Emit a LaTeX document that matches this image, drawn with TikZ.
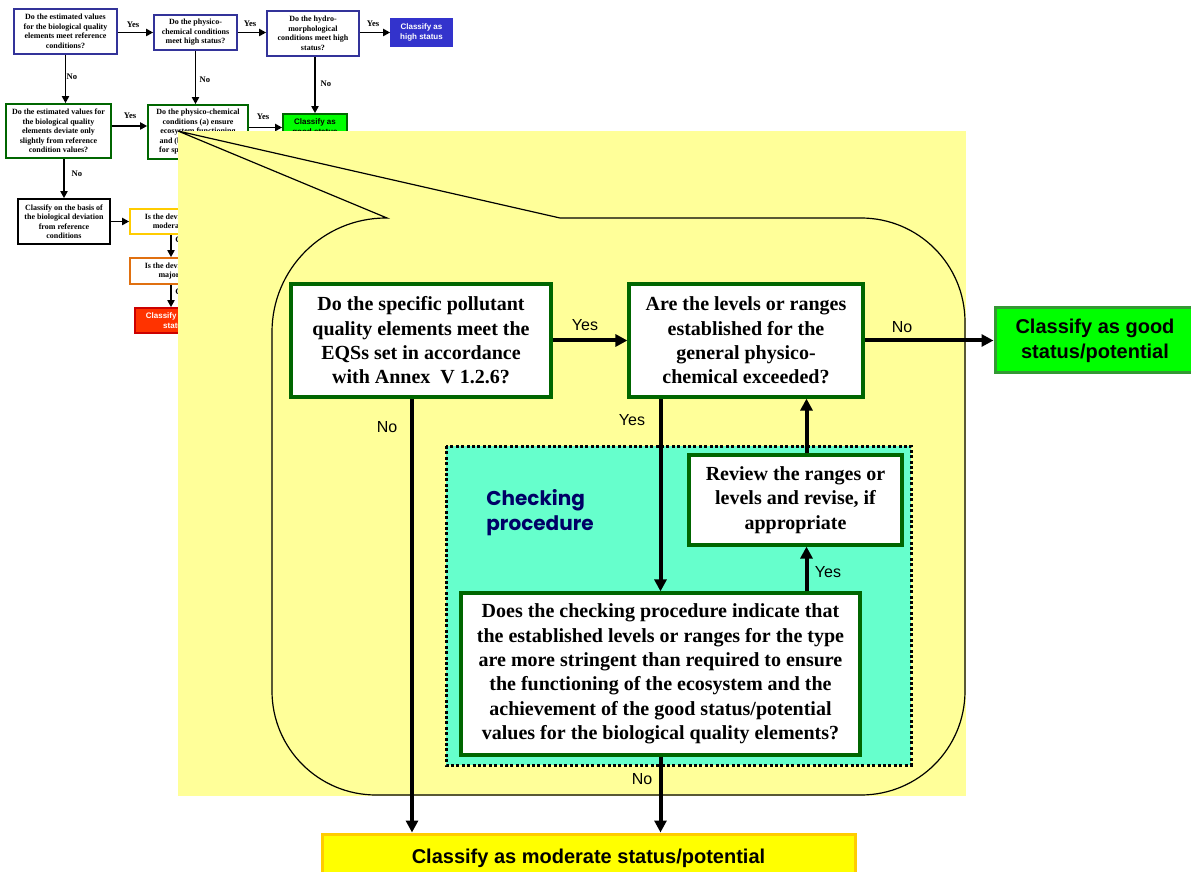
\documentclass[tikz,border=0pt]{standalone}
\usepackage{fontspec}
\setmainfont{Liberation Serif}
\newfontfamily\arialfont{Liberation Sans}
\newfontfamily\comicfont{Poppins}
\usetikzlibrary{arrows.meta}

\definecolor{calloutyellow}{HTML}{FFFF99}
\definecolor{checkcyan}{HTML}{66FFCC}
\definecolor{boxgreen}{HTML}{006600}
\definecolor{goodgreen}{HTML}{00FF00}
\definecolor{goodedge}{HTML}{339933}
\definecolor{modyellow}{HTML}{FFFF00}
\definecolor{modedge}{HTML}{FFCC00}
\definecolor{highblue}{HTML}{3333CC}
\definecolor{qblue}{HTML}{333399}
\definecolor{majedge}{HTML}{E07010}
\definecolor{badred}{HTML}{FF3300}
\definecolor{navytext}{HTML}{000066}

\begin{document}
\begin{tikzpicture}[x=0.5pt, y=-0.5pt,
    qbox/.style={draw=boxgreen, line width=1.6pt, fill=white, align=center, inner sep=0pt,
        font=\fontsize{10}{12.2}\selectfont\bfseries},
    flow/.style={line width=2pt, -{Triangle[length=6pt,width=6pt]}},
    lbl/.style={font=\arialfont\fontsize{8}{9}\selectfont, inner sep=0pt},
    sbox/.style={draw, line width=0.8pt, fill=white, align=center, inner sep=0pt,
        font=\fontsize{4}{4.75}\selectfont\bfseries},
    sflow/.style={line width=0.9pt, -{Triangle[length=3.5pt,width=3.5pt]}},
    slbl/.style={font=\fontsize{4.3}{5}\selectfont\bfseries, inner sep=0pt},
    checkarea/.style={fill=checkcyan, draw=black, line width=1.5pt, dash pattern=on 1.5pt off 1.2pt}]
    \useasboundingbox (0,0) rectangle (1191,872);
    % Drawing the small flowchart behind the callout
    \node[sbox, draw=qblue, minimum width=51.5pt, minimum height=22.5pt] (estref) at (65.5,31.5)
        {Do the estimated values\\for the biological quality\\elements meet reference\\conditions?};
    \node[sbox, draw=qblue, minimum width=41.5pt, minimum height=17.5pt] (physhigh) at (195.5,32.5)
        {Do the physico-\\chemical conditions\\meet high status?};
    \node[sbox, draw=qblue, minimum width=46pt, minimum height=22.5pt] (hydro) at (313,33.5)
        {Do the hydro-\\morphological\\conditions meet high\\status?};
    \node[sbox, draw=highblue, fill=highblue, text=white, font=\arialfont\fontsize{4}{4.75}\selectfont\bfseries,
        minimum width=30.5pt, minimum height=13.5pt] (high) at (421.5,32.5) {Classify as\\high status};
    \node[sbox, draw=boxgreen, minimum width=52.5pt, minimum height=27pt] (estslight) at (58.5,131)
        {Do the estimated values for\\the biological quality\\elements deviate only\\slightly from reference\\condition values?};
    \node[sbox, draw=boxgreen, minimum width=50pt, minimum height=27pt] (physgood) at (198,132)
        {Do the physico-chemical\\conditions (a) ensure\\ecosystem functioning\\and (b) meet the EQSs\\for specific pollutants?};
    \node[sbox, draw=boxgreen, fill=goodgreen, font=\arialfont\fontsize{4}{4.75}\selectfont\bfseries,
        minimum width=32pt, minimum height=13.5pt] (goodsmall) at (315,127.5) {Classify as\\good status};
    \node[sbox, minimum width=46pt, minimum height=22.5pt] (biodev) at (64,221.5)
        {Classify on the basis of\\the biological deviation\\from reference\\conditions};
    \node[sbox, draw=modedge, minimum width=41pt, minimum height=12.5pt] (devmod) at (171,221.5)
        {Is the deviation\\moderate?};
    \node[sbox, draw=majedge, minimum width=41pt, minimum height=13pt] (devmaj) at (171,271)
        {Is the deviation\\major?};
    \node[sbox, draw=red!80!black, fill=badred, text=white, font=\arialfont\fontsize{4}{4.75}\selectfont\bfseries,
        minimum width=40pt, minimum height=12.5pt] (bad) at (175,320.5) {Classify as bad\\status};
    % Small arrows and their labels
    \draw[sflow] (estref.east |- physhigh.west) -- (physhigh.west);
    \draw[sflow] (physhigh.east) -- (physhigh.east -| hydro.west);
    \draw[sflow] (hydro.east |- high.west) -- (high.west);
    \draw[sflow] (estref.south) -- (estref.south |- estslight.north);
    \draw[sflow] (physhigh.south) -- (physhigh.south |- physgood.north);
    \draw[sflow] (goodsmall.north |- hydro.south) -- (goodsmall.north);
    \draw[sflow] ([yshift=2.5pt]estslight.east) -- ([yshift=2.5pt]estslight.east -| physgood.west);
    \draw[sflow] (physgood.east |- goodsmall.west) -- (goodsmall.west);
    \draw[sflow] (biodev.north |- estslight.south) -- (biodev.north);
    \draw[sflow] (biodev.east) -- (devmod.west);
    \draw[sflow] (devmod.south) -- (devmaj.north);
    \draw[sflow] (devmaj.south) -- (devmaj.south |- bad.north);
    \node[slbl] (y1) at (133,25) {Yes};
    \node[slbl] (y2) at (250,24) {Yes};
    \node[slbl] (y3) at (373,24) {Yes};
    \node[slbl] (n1) at (72,77) {No};
    \node[slbl] (n2) at (205,80) {No};
    \node[slbl] (n3) at (326,84) {No};
    \node[slbl] (y4) at (130,116) {Yes};
    \node[slbl] (y5) at (263,117) {Yes};
    \node[slbl] (n4) at (77,174) {No};
    \node[slbl, anchor=west] (g1) at (175,240) {Greater};
    \node[slbl, anchor=west] (g2) at (175,292) {Greater};
    % Drawing the yellow callout
    \fill[calloutyellow] (178,131) rectangle (966,796);
    \draw[line width=0.6pt] (560,218) [rounded corners=52pt] -- (965,218) -- (965,795) -- (272,795)
        [rounded corners=57pt] -- (272,218) [sharp corners] -- (387,218) -- (178,131) -- cycle;
    % Checking procedure area
    \draw[checkarea] (446,446) rectangle (911,765);
    \node[font=\comicfont\bfseries\fontsize{10}{12.5}\selectfont, text=navytext, align=left,
        anchor=north west, inner sep=0pt] (chklabel) at (486,489) {Checking\\procedure};
    % Inserting the boxes
    \node[qbox, minimum width=130pt, minimum height=56.5pt] (spec) at (421,340.5)
        {Do the specific pollutant\\quality elements meet the\\EQSs set in accordance\\with Annex\ \ V 1.2.6?};
    \node[qbox, minimum width=117pt, minimum height=56.5pt] (exceeded) at (746,340.5)
        {Are the levels or ranges\\established for the\\general physico-\\chemical exceeded?};
    \node[qbox, minimum width=106.5pt, minimum height=45pt] (review) at (795.5,500)
        {Review the ranges or\\levels and revise, if\\appropriate};
    \node[qbox, minimum width=199.5pt, minimum height=81pt] (check) at (660.5,674)
        {Does the checking procedure indicate that\\the established levels or ranges for the type\\are more stringent than required to ensure\\the functioning of the ecosystem and the\\achievement of the good status/potential\\values for the biological quality elements?};
    \node[draw=goodedge, fill=goodgreen, line width=1.5pt, minimum width=100pt, minimum height=32.5pt,
        align=center, font=\arialfont\bfseries\fontsize{10}{12.5}\selectfont] (good) at (1095,340.5)
        {Classify as good\\status/potential};
    \node[draw=modedge, fill=modyellow, line width=1.5pt, minimum width=266.5pt, minimum height=24pt,
        font=\arialfont\bfseries\fontsize{10}{12}\selectfont] (moderate) at (588.5,858)
        {Classify as moderate status/potential};
    % Inserting the arrows
    \draw[flow] (spec.east) -- (exceeded.west);
    \draw[flow] (exceeded.east) -- (good.west);
    \draw[flow] ([xshift=-4.5pt]spec.south) -- ([xshift=-4.5pt]spec.south |- moderate.north);
    \draw[flow] (exceeded.south -| check.north) -- (check.north);
    \draw[flow] ([xshift=5.5pt]review.south |- check.north) -- ([xshift=5.5pt]review.south);
    \draw[flow] ([xshift=5.5pt]review.north) -- ([xshift=5.5pt]review.north |- exceeded.south);
    \draw[flow] (check.south) -- (check.south |- moderate.north);
    % Writing the labels
    \node[lbl] (yesspec) at (585,325) {Yes};
    \node[lbl] (noexc) at (902,327) {No};
    \node[lbl] (nospec) at (387,427) {No};
    \node[lbl] (yesexc) at (632,420) {Yes};
    \node[lbl] (yescheck) at (828,572) {Yes};
    \node[lbl] (nocheck) at (642,779) {No};
\end{tikzpicture}
\end{document}
